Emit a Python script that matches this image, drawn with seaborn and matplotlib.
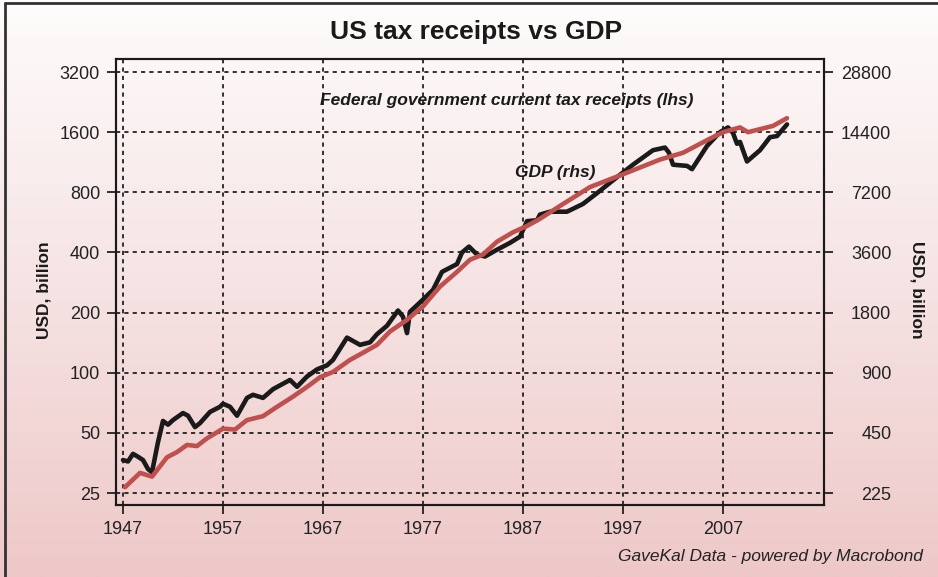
import numpy as np
import matplotlib
matplotlib.use("Agg")
import matplotlib.pyplot as plt
from matplotlib.colors import LinearSegmentedColormap
from matplotlib.ticker import NullLocator
import seaborn as sns

# Federal government current tax receipts, USD bn (lhs)
tax_years = [1947.0, 1947.5, 1948.0, 1948.5, 1949.0, 1949.5, 1949.9, 1950.5, 1951.0, 1951.5,
             1952.0, 1953.0, 1953.5, 1954.2, 1954.7, 1955.7, 1956.7, 1957.0, 1957.7, 1958.4,
             1959.4, 1960.0, 1961.0, 1962.0, 1963.7, 1964.4, 1965.4, 1966.4, 1967.4, 1968.0,
             1969.4, 1970.7, 1971.7, 1972.4, 1973.4, 1974.5, 1975.0, 1975.4, 1975.7, 1976.7,
             1978.0, 1978.9, 1980.4, 1980.9, 1981.6, 1982.4, 1983.2, 1984.4, 1985.7, 1986.7,
             1987.4, 1988.4, 1988.7, 1989.7, 1991.4, 1993.0, 1994.5, 1996.4, 1998.0, 2000.0,
             2001.2, 2001.6, 2002.0, 2003.4, 2003.9, 2004.4, 2005.4, 2006.7, 2007.5, 2008.0,
             2008.4, 2008.7, 2009.4, 2010.7, 2011.7, 2012.4, 2013.4]
tax_values = [36.6, 36, 39.3, 38, 36.6, 33, 31.8, 45, 57.4, 55,
              58, 62.9, 61, 53.5, 56, 63.7, 67.6, 70, 67.6, 61,
              74.9, 77.6, 74.9, 82.8, 92.1, 85.1, 95.8, 104, 109, 116,
              150, 138, 142, 156, 172, 205, 191, 158, 202, 225,
              260, 320, 350, 400, 428, 391, 382, 413, 447, 480,
              574, 580, 619, 640, 640, 700, 800, 953, 1100, 1300,
              1340, 1262, 1100, 1085, 1045, 1142, 1365, 1600, 1690, 1585,
              1400, 1430, 1142, 1300, 1510, 1530, 1750]

# GDP, USD bn (rhs)
gdp_years = [1947.2, 1948.7, 1949.9, 1951.4, 1952.4, 1953.4, 1954.4, 1955.4, 1957.0, 1958.2,
             1959.4, 1961.0, 1962.4, 1964.0, 1965.4, 1966.7, 1968.0, 1969.7, 1971.0, 1972.4,
             1973.7, 1975.4, 1977.0, 1978.7, 1980.4, 1981.7, 1983.0, 1984.4, 1986.0, 1987.4,
             1988.7, 1990.7, 1993.7, 1997.0, 2000.7, 2003.0, 2005.4, 2007.0, 2008.7, 2009.5,
             2012.0, 2013.4]
gdp_values = [241, 284, 272, 340, 361, 392, 387, 423, 473, 468,
              522, 546, 608, 684, 765, 855, 909, 1044, 1134, 1242,
              1449, 1656, 1935, 2430, 2880, 3312, 3519, 4077, 4545, 4887,
              5310, 6156, 7650, 8865, 10503, 11358, 13131, 14400, 15210, 14400,
              15480, 16920]

lhs_ticks = [25, 50, 100, 200, 400, 800, 1600, 3200]
rhs_ticks = [225, 450, 900, 1800, 3600, 7200, 14400, 28800]
year_ticks = [1947, 1957, 1967, 1977, 1987, 1997, 2007]

sns.set_style("ticks")
plt.rcParams['font.family'] = ['Liberation Sans', 'DejaVu Sans']

fig = plt.figure(figsize=(9.38, 5.77), dpi=100)

# fond dégradé blanc -> rose
bg = fig.add_axes([0, 0, 1, 1], zorder=-10)
grad = np.linspace(0, 1, 256).reshape(-1, 1)
cmap = LinearSegmentedColormap.from_list('bg', ['#fefcfc', '#f6e3e3', '#eec8c8'])
bg.imshow(grad, aspect='auto', cmap=cmap, extent=(0, 1, 0, 1))
bg.plot([5 / 938, 5 / 938], [0, 1 - 3 / 577], color='#333333', lw=2)
bg.plot([5 / 938, 1], [1 - 3 / 577, 1 - 3 / 577], color='#333333', lw=2)
bg.set_xlim(0, 1)
bg.set_ylim(0, 1)
bg.axis('off')

ax = fig.add_axes([116 / 938, 1 - 505 / 577, 708 / 938, 446 / 577])
ax.patch.set_alpha(0)
sns.lineplot(x=tax_years, y=tax_values, ax=ax, color='#1a1a1a', lw=3.3)
ax.set_yscale('log', base=2)
ax.set_ylim(21.8, 3718)
ax.set_xlim(1946.3, 2017.1)
ax.set_xticks(year_ticks, labels=[str(y) for y in year_ticks])
ax.set_yticks(lhs_ticks, labels=[str(t) for t in lhs_ticks])
ax.yaxis.set_minor_locator(NullLocator())
ax.grid(True, color='#111111', lw=1.2, linestyle=(0, (2.5, 2.5)))

ax2 = ax.twinx()
sns.lineplot(x=gdp_years, y=gdp_values, ax=ax2, color='#c0504d', lw=3.3)
ax2.set_yscale('log', base=2)
ax2.set_ylim(21.8 * 9, 3718 * 9)
ax2.set_yticks(rhs_ticks, labels=[str(t) for t in rhs_ticks])
ax2.yaxis.set_minor_locator(NullLocator())

for a in (ax, ax2):
    for s in a.spines.values():
        s.set_color('#1a1a1a')
        s.set_linewidth(1.5)
    a.set_xlabel('')
    a.set_ylabel('')
ax.tick_params(axis='both', direction='out', length=6.5, width=1.3, colors='#222222', labelsize=13, pad=5)
ax2.tick_params(axis='y', direction='out', length=6.5, width=1.3, colors='#222222', labelsize=13, pad=42)
for lbl in ax2.get_yticklabels():
    lbl.set_horizontalalignment('right')

fig.text(476 / 938, 1 - 32 / 577, 'US tax receipts vs GDP', fontsize=19, fontweight='bold',
         ha='center', va='center', color='#1a1a1a')
fig.text(507 / 938, 1 - 101 / 577, 'Federal government current tax receipts (lhs)', fontsize=12.5,
         fontweight='bold', style='italic', ha='center', va='center', color='#1a1a1a')
fig.text(555 / 938, 1 - 173 / 577, 'GDP (rhs)', fontsize=12.5, fontweight='bold', style='italic',
         ha='center', va='center', color='#1a1a1a')
fig.text(44 / 938, 1 - 290 / 577, 'USD, billion', fontsize=12.5, fontweight='bold', rotation=90,
         ha='center', va='center', color='#1a1a1a')
fig.text(917 / 938, 1 - 290 / 577, 'USD, billion', fontsize=12.5, fontweight='bold', rotation=270,
         ha='center', va='center', color='#1a1a1a')
fig.text(923 / 938, 1 - 557 / 577, 'GaveKal Data - powered by Macrobond', fontsize=12.5, style='italic',
         ha='right', va='center', color='#222222')

fig.savefig('out.png', dpi=100)
